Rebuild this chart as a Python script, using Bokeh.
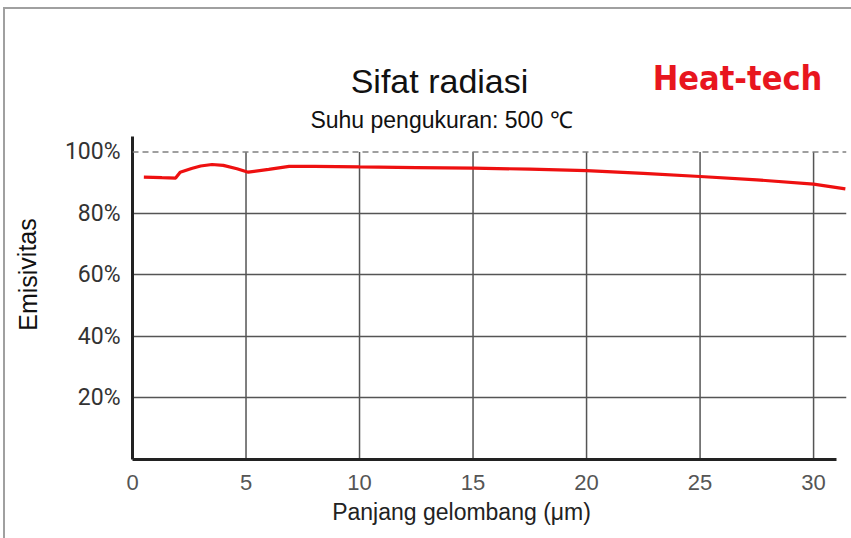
from bokeh.plotting import figure
from bokeh.layouts import column, row
from bokeh.models import Range1d, FixedTicker, Span
from bokeh.core.properties import value
from bokeh.embed import file_html
from bokeh.resources import INLINE

# data
wavelength = [0.5, 1.3, 1.9, 2.1, 2.6, 3.0, 3.5, 4.0, 4.6, 5.1, 6.0, 6.9, 8.0,
              10.0, 12.5, 15.0, 17.5, 20.0, 22.5, 25.0, 27.5, 30.0, 31.4]
emissivity = [91.8, 91.6, 91.5, 93.4, 94.6, 95.4, 95.9, 95.6, 94.5, 93.4, 94.3,
              95.3, 95.3, 95.1, 94.9, 94.7, 94.4, 93.9, 93.0, 92.0, 90.9, 89.5, 88.0]
x_ticks = [0, 5, 10, 15, 20, 25, 30]
y_ticks = [20, 40, 60, 80, 100]
y_tick_labels = ["20%", "40%", "60%", "80%", "100%"]

title_text = "Sifat radiasi"
subtitle_text = "Suhu pengukuran: 500 ℃"
brand_text = "Heat-tech"
x_title = "Panjang gelombang (μm)"
y_title = "Emisivitas"

OX, OY = 5, 9                     # outer frame offset (margin + border)
W, H = 851 - OX, 538 - OY         # content size
TOP_H, BOTTOM_H, LEFT_W = 136 - OY, 38, 48 - OX
MAIN_H = H - TOP_H - BOTTOM_H
FRAME_H = 323
FRAME_COLOR = "#a0a0a0"


def blank(width, height, bottom_border=0):
    f = figure(width=width, height=height, output_backend="svg", toolbar_location=None,
               x_range=Range1d(0, width), y_range=Range1d(height - bottom_border, 0),
               min_border=0, min_border_bottom=bottom_border, outline_line_color=None)
    f.axis.visible = False
    f.grid.visible = False
    f.background_fill_color = "white"
    f.border_fill_color = "white"
    return f


# header with titles
top = blank(W, TOP_H)
top.text(x=[434], y=[71], text=[title_text], text_font=value("Liberation Sans"),
         text_font_size="34px", text_color="#111111", text_align="center",
         text_baseline="middle")
top.text(x=[436], y=[110], text=[subtitle_text], text_font=value("Liberation Sans"),
         text_font_size="23px", text_color="#111111", text_align="center",
         text_baseline="middle")
top.text(x=[732], y=[68], text=[brand_text], text_font=value("DejaVu Sans Condensed"),
         text_font_style="bold", text_font_size="34px", text_color="#e8161e",
         text_align="center", text_baseline="middle")

# left strip with the y-axis title
left = blank(LEFT_W, MAIN_H, bottom_border=MAIN_H - FRAME_H)
left.text(x=[22], y=[138], text=[y_title], text_font=value("Liberation Sans"),
          text_font_size="25px", text_color="#111111", text_align="center",
          text_baseline="middle", angle=1.5708)

# main chart
p = figure(width=W - LEFT_W, height=MAIN_H, output_backend="svg", toolbar_location=None,
           x_range=Range1d(0, 31.45), y_range=Range1d(0, 105),
           min_border_left=132 - OX - LEFT_W, min_border_right=5, min_border_top=0,
           min_border_bottom=MAIN_H - FRAME_H, outline_line_color=None)
p.background_fill_color = "white"
p.border_fill_color = "white"

p.xgrid.visible = False
p.ygrid.ticker = FixedTicker(ticks=[t for t in y_ticks if t < 100])
p.ygrid.grid_line_color = "#555555"
p.ygrid.grid_line_width = 1.5
p.segment(x0=x_ticks[1:], y0=[0] * (len(x_ticks) - 1), x1=x_ticks[1:],
          y1=[100] * (len(x_ticks) - 1), line_color="#555555", line_width=1.5)
p.add_layout(Span(location=100, dimension="width", line_color="#808080",
                  line_width=1.5, line_dash="6 4"))

p.line(wavelength, emissivity, line_color="#ee1010", line_width=3.2)

p.xaxis.ticker = FixedTicker(ticks=x_ticks)
p.xaxis.bounds = (0, 31)
p.xaxis.axis_line_width = 3
p.xaxis.axis_line_color = "#222222"
p.xaxis.major_tick_line_color = None
p.xaxis.minor_tick_line_color = None
p.xaxis.major_label_text_font = "Liberation Sans"
p.xaxis.major_label_text_font_size = "22px"
p.xaxis.major_label_text_color = "#555555"
p.xaxis.major_label_standoff = 9

p.yaxis.ticker = FixedTicker(ticks=y_ticks)
p.yaxis.major_label_overrides = {t: l for t, l in zip(y_ticks, y_tick_labels)}
p.yaxis.axis_line_width = 3
p.yaxis.axis_line_color = "#222222"
p.yaxis.major_tick_line_color = None
p.yaxis.minor_tick_line_color = None
p.yaxis.major_label_text_font = "Roboto"
p.yaxis.major_label_text_font_size = "23px"
p.yaxis.major_label_text_color = "#333333"
p.yaxis.major_label_standoff = 6

# footer with x-axis title
bottom = blank(W, BOTTOM_H)
bottom.text(x=[456], y=[11], text=[x_title], text_font=value("Liberation Sans"),
            text_font_size="23px", text_color="#222222", text_align="center",
            text_baseline="middle")

layout = column(top, row(left, p, spacing=0), bottom, spacing=0,
                styles={"margin-left": "3px", "margin-top": "7px",
                        "border-left": "2px solid " + FRAME_COLOR,
                        "border-top": "2px solid " + FRAME_COLOR})
open("out.html", "w").write(file_html(layout, INLINE))
